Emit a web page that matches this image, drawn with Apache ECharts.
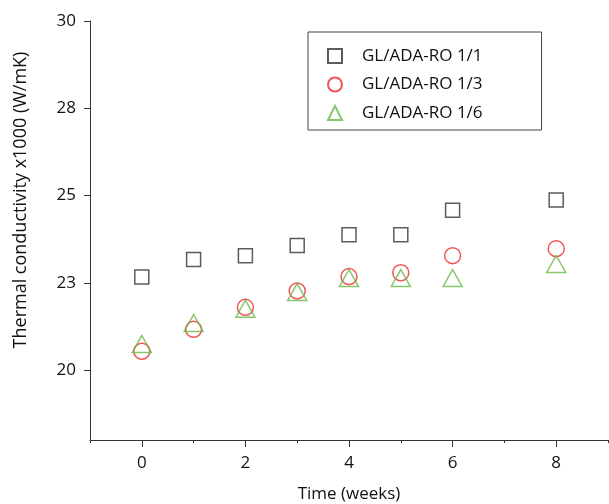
<!DOCTYPE html>
<html>
<head>
<meta charset="utf-8">
<script src="https://cdn.jsdelivr.net/npm/echarts@6/dist/echarts.min.js"></script>
<style>
  html, body { margin: 0; padding: 0; background: #fff; }
  #chart { width: 609px; height: 504px; }
</style>
</head>
<body>
<div id="chart"></div>
<script>
// weeks and thermal conductivity x1000 (W/mK)
const weeks = [0, 1, 2, 3, 4, 5, 6, 8];
const ratio11 = [22.67, 23.17, 23.28, 23.57, 23.88, 23.88, 24.58, 24.87];
const ratio13 = [20.54, 21.17, 21.80, 22.27, 22.68, 22.79, 23.28, 23.48];
const ratio16 = [20.75, 21.35, 21.76, 22.24, 22.64, 22.64, 22.64, 23.04];
const seriesNames = ['GL/ADA-RO 1/1', 'GL/ADA-RO 1/3', 'GL/ADA-RO 1/6'];
const yTicks = [20, 22.5, 25, 27.5, 30];
const xMajorTicks = [0, 2, 4, 6, 8];

const font = '"Open Sans", sans-serif';
const axisColor = '#333';
const textColor = '#111';

const pairs = vals => weeks.map((w, i) => [w, vals[i]]);

const chart = echarts.init(document.getElementById('chart'), null, { renderer: 'canvas' });

chart.setOption({
  animation: false,
  // v6 shrinks the grid to keep names inside by default, turn that off
  grid: { left: 90, right: 1, top: 21, bottom: 64, outerBoundsMode: 'none', containLabel: false },
  legend: {
    orient: 'vertical',
    left: 308,
    top: 32,
    padding: [15, 59, 8, 19],
    borderColor: '#444',
    borderWidth: 1,
    itemWidth: 14,
    itemHeight: 14,
    itemGap: 10.5,
    textStyle: { fontFamily: font, fontSize: 17, color: textColor, lineHeight: 18, padding: [0, 0, 0, 15] },
    data: [
      { name: seriesNames[0], icon: 'rect' },
      { name: seriesNames[1], icon: 'circle' },
      { name: seriesNames[2], icon: 'triangle' }
    ]
  },
  xAxis: [
    {
      type: 'value',
      min: -1,
      max: 9,
      interval: 1,
      name: 'Time (weeks)',
      nameLocation: 'middle',
      nameGap: 46,
      nameTextStyle: { fontFamily: font, fontSize: 17, color: textColor },
      axisLine: { show: true, onZero: false, lineStyle: { color: axisColor, width: 1 } },
      axisTick: { show: true, length: 3, lineStyle: { color: axisColor } },
      axisLabel: {
        fontFamily: font, fontSize: 17, color: textColor, margin: 15,
        formatter: v => (v % 2 === 0 ? String(v) : '')
      },
      splitLine: { show: false }
    },
    {
      type: 'value',
      min: -1,
      max: 9,
      position: 'bottom',
      axisLine: { show: false, onZero: false },
      axisTick: { show: true, length: 7, customValues: xMajorTicks, lineStyle: { color: axisColor } },
      axisLabel: { show: false },
      splitLine: { show: false }
    }
  ],
  yAxis: {
    type: 'value',
    min: 18,
    max: 30,
    name: 'Thermal conductivity x1000 (W/mK)',
    nameLocation: 'middle',
    nameGap: 60,
    nameTextStyle: { fontFamily: font, fontSize: 18, color: textColor, padding: [0, 0, 0, 61] },
    axisLine: { show: true, onZero: false, lineStyle: { color: axisColor, width: 1 } },
    axisTick: { show: true, length: 6, customValues: yTicks, lineStyle: { color: axisColor } },
    axisLabel: {
      fontFamily: font, fontSize: 17, color: textColor, margin: 14,
      customValues: yTicks,
      formatter: v => String(Math.round(v))
    },
    splitLine: { show: false }
  },
  series: [
    {
      name: seriesNames[0],
      type: 'scatter',
      symbol: 'rect',
      symbolSize: 14,
      data: pairs(ratio11),
      itemStyle: { color: 'rgba(0,0,0,0)', borderColor: '#333', borderWidth: 1.5 },
      z: 2
    },
    {
      name: seriesNames[1],
      type: 'scatter',
      symbol: 'circle',
      symbolSize: 16,
      data: pairs(ratio13),
      itemStyle: { color: 'rgba(0,0,0,0)', borderColor: '#ec2b2b', borderWidth: 1.5 },
      z: 3
    },
    {
      name: seriesNames[2],
      type: 'scatter',
      symbol: 'triangle',
      symbolSize: [19, 17],
      data: pairs(ratio16),
      itemStyle: { color: 'rgba(0,0,0,0)', borderColor: '#6ab84a', borderWidth: 1.5 },
      z: 4
    }
  ]
});
</script>
</body>
</html>
